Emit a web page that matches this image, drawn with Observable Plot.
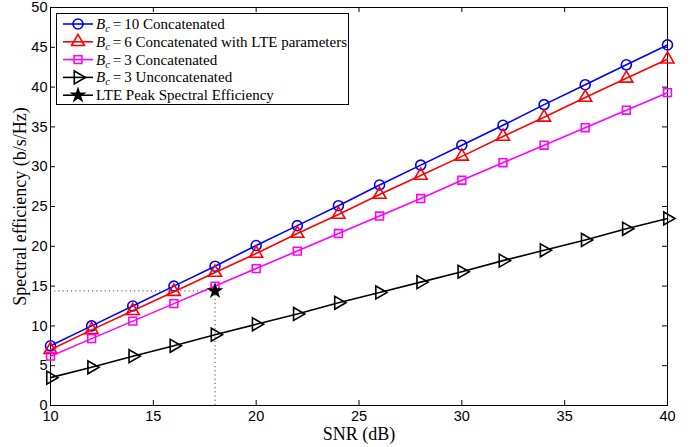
<!DOCTYPE html>
<html><head><meta charset="utf-8">
<script src="https://cdn.jsdelivr.net/npm/d3@7"></script>
<script src="https://cdn.jsdelivr.net/npm/@observablehq/plot@0.6"></script>
<style>body{margin:0;background:#fff}</style>
</head><body><div id="chart"></div>
<script>
const snr = [10,12,14,16,18,20,22,24,26,28,30,32,34,36,38,40];
const bc10 = [7.5,10.0,12.5,15.0,17.5,20.1,22.6,25.1,27.7,30.2,32.7,35.2,37.8,40.3,42.8,45.3];
const bc6lte = [7.0,9.5,11.9,14.3,16.7,19.1,21.6,24.0,26.5,28.9,31.3,33.8,36.2,38.7,41.1,43.5];
const bc3 = [6.2,8.4,10.6,12.8,15.0,17.2,19.4,21.6,23.8,26.0,28.3,30.5,32.7,34.9,37.1,39.3];
const bc3un = [3.5,4.8,6.2,7.5,8.9,10.2,11.5,12.9,14.2,15.5,16.8,18.2,19.5,20.8,22.2,23.5];
const peakSnr = [18];
const peakSE = [14.4];
const xTicks = [10,15,20,25,30,35,40];
const yTicks = [0,5,10,15,20,25,30,35,40,45,50];
const xLabel = "SNR (dB)";
const yLabel = "Spectral efficiency (b/s/Hz)";

const triRight = {draw(ctx, size){
  const a = Math.sqrt(size / (Math.sqrt(3)/4));
  const h = a*Math.sqrt(3)/2;
  ctx.moveTo(2*h/3, 0); ctx.lineTo(-h/3, -a/2); ctx.lineTo(-h/3, a/2); ctx.closePath();
}};
const series = [
  {name:"10", label:" Concatenated", vals:bc10, color:"#0000ff", symbol:d3.symbolCircle, r:5},
  {name:"6", label:" Concatenated with LTE parameters", vals:bc6lte, color:"#ff0000", symbol:d3.symbolTriangle, r:4.8},
  {name:"3", label:" Concatenated", vals:bc3, color:"#ff00ff", symbol:d3.symbolSquare, r:4.4},
  {name:"3", label:" Unconcatenated", vals:bc3un, color:"#000000", symbol:triRight, r:4.8}
];
const data = series.map(s => snr.map((x,i)=>({x, y:s.vals[i]})));

const W=697,H=447,mL=50,mR=30,mT=7,mB=42;
const pw=W-mL-mR, ph=H-mT-mB, tl=5;

const marks = [
  Plot.frame({stroke:"black", strokeWidth:1}),
  Plot.ruleX(xTicks.slice(1,-1), {insetTop: ph-tl, stroke:"black"}),
  Plot.ruleX(xTicks.slice(1,-1), {insetBottom: ph-tl, stroke:"black"}),
  Plot.ruleY(yTicks.slice(1,-1), {insetRight: pw-tl, stroke:"black"}),
  Plot.ruleY(yTicks.slice(1,-1), {insetLeft: pw-tl, stroke:"black"}),
  Plot.axisX({ticks:xTicks, tickSize:0, tickPadding:5, label:null, fontSize:14.5}),
  Plot.axisY({ticks:yTicks, tickSize:0, tickPadding:3, label:null, fontSize:14.5}),
  Plot.ruleY(peakSE, {x1: snr[0], x2: peakSnr[0], stroke:"#444", strokeDasharray:"1.2,3"}),
  Plot.ruleX(peakSnr, {y1: 0, y2: peakSE[0], stroke:"#444", strokeDasharray:"1.2,3"}),
];
series.forEach((s,k)=>{
  marks.push(Plot.line(data[k], {x:"x", y:"y", stroke:s.color, strokeWidth:1.6}));
  marks.push(Plot.dot(data[k], {x:"x", y:"y", stroke:s.color, symbol:s.symbol, r:s.r, strokeWidth:1.6, fill:"none"}));
});
marks.push(Plot.dot(peakSnr.map((x,i)=>({x, y:peakSE[i]})), {x:"x", y:"y", symbol:"star", r:3.8, fill:"black", stroke:"black"}));
marks.push(Plot.text([xLabel], {frameAnchor:"bottom", dy:29, fontFamily:"Liberation Serif", fontSize:18, lineAnchor:"middle"}));
marks.push(Plot.text([yLabel], {frameAnchor:"left", textAnchor:"middle", lineAnchor:"middle", dx:-30, rotate:-90, fontFamily:"Liberation Serif", fontSize:18}));

const chart = Plot.plot({
  width:W, height:H, marginLeft:mL, marginRight:mR, marginTop:mT, marginBottom:mB,
  x:{domain:[10,40]}, y:{domain:[0,50]},
  style:{fontFamily:"Liberation Sans", fontSize:"14px", background:"white", color:"black", overflow:"visible"},
  marks
});
document.getElementById("chart").append(chart);

// legend
const svg = d3.select(chart);
const g = svg.append("g").attr("text-anchor","start");
g.append("rect").attr("x",56.5).attr("y",13.5).attr("width",292).attr("height",91)
  .attr("fill","white").attr("stroke","black").attr("stroke-width",1);
const rows = [...series.map(s=>({color:s.color, symbol:s.symbol, r:s.r, fill:"none", math:true, name:s.name, label:s.label})),
  {color:"black", symbol:d3.symbolStar, r:3.8, fill:"black", math:false, label:"LTE Peak Spectral Efficiency"}];
rows.forEach((row,i)=>{
  const y = 24 + i*17.8;
  g.append("line").attr("x1",63).attr("x2",93).attr("y1",y).attr("y2",y).attr("stroke",row.color).attr("stroke-width",1.6);
  g.append("path").attr("d", d3.symbol(row.symbol, Math.PI*row.r*row.r)()).attr("transform",`translate(78,${y})`)
    .attr("fill",row.fill).attr("stroke",row.color).attr("stroke-width",1.6);
  const t = g.append("text").attr("x",96).attr("y",y+5).attr("text-anchor","start").attr("font-family","Liberation Serif").attr("font-size",15);
  if (row.math) {
    t.append("tspan").attr("font-style","italic").text("B");
    t.append("tspan").attr("font-style","italic").attr("font-size",10.5).attr("dy",3).text("c");
    t.append("tspan").attr("dy",-3).text("\u2009=\u2009" + row.name + row.label);
  } else t.text(row.label);
});
</script></body></html>
